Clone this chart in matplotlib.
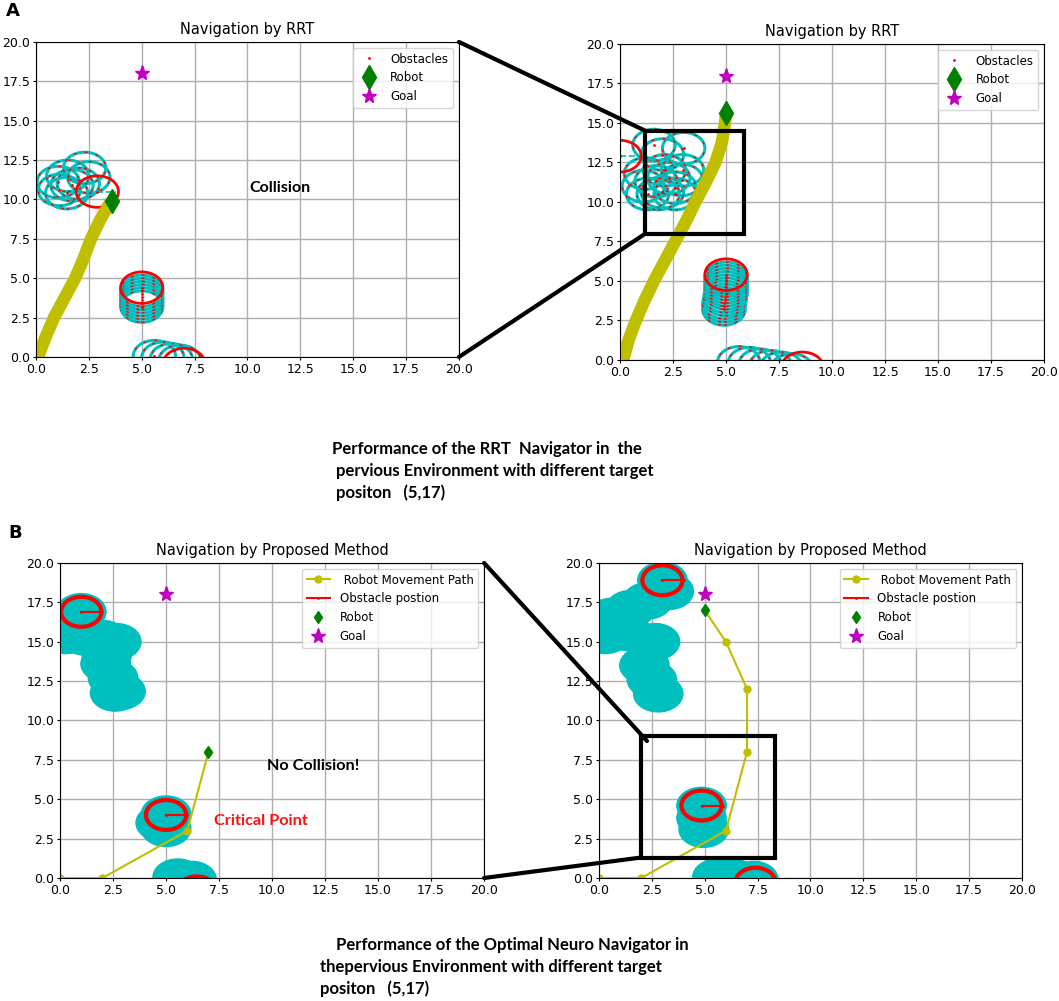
import numpy as np
import matplotlib
matplotlib.use("Agg")
from matplotlib import pyplot as plt
from matplotlib.patches import Circle, Rectangle, ConnectionPatch

# ---- panel A: RRT ----
goal = (5, 18)

rrt1_x = [0.1, 0.45, 0.85, 1.35, 1.85, 2.25, 2.6, 3.05, 3.55]
rrt1_y = [0.0, 1.25, 2.5, 3.75, 5.0, 6.25, 7.5, 8.75, 9.9]
rrt1_robot = (3.6, 9.9)
rrt1_trail = [(1.05, 11.1), (1.1, 10.6), (1.45, 10.4), (1.7, 10.9), (1.5, 11.5),
              (2.0, 11.0), (2.3, 12.0), (2.5, 11.4),
              (5.0, 3.2), (5.0, 3.4), (5.0, 3.6), (5.0, 3.8), (5.0, 4.0), (5.0, 4.2),
              (5.6, 0.05), (6.0, -0.05), (6.4, -0.15), (6.8, -0.25)]
rrt1_last = [(2.9, 10.5), (5.0, 4.4), (7.0, -0.45)]

rrt2_x = [0.15, 0.4, 0.75, 1.15, 1.6, 2.1, 2.6, 3.1, 3.55, 4.05, 4.5, 4.8, 4.95, 5.0]
rrt2_y = [0.0, 1.25, 2.5, 3.75, 5.0, 6.25, 7.5, 8.75, 10.0, 11.25, 12.5, 13.75, 15.0, 15.6]
rrt2_robot = (5.0, 15.6)
rrt2_trail = [(1.6, 13.6), (3.0, 13.4), (1.1, 11.0), (1.3, 10.5), (1.7, 11.3), (2.0, 10.6),
              (2.3, 11.5), (2.6, 10.9), (2.9, 11.4), (1.2, 11.8), (2.1, 12.0), (2.95, 12.0),
              (1.8, 10.5), (2.6, 10.5), (2.0, 13.0),
              (4.9, 3.2), (4.9, 3.4), (4.9, 3.6), (4.95, 3.8), (4.95, 4.0), (5.0, 4.2),
              (5.0, 4.4), (5.0, 4.6), (5.0, 4.8), (5.0, 5.0), (5.0, 5.2),
              (5.6, -0.15), (6.1, -0.2), (6.6, -0.3), (7.1, -0.4), (7.6, -0.5), (8.1, -0.6)]
rrt2_last = [(0.0, 12.9), (5.0, 5.4), (8.6, -0.5)]

# ---- panel B: proposed method ----
path1_x = [0, 2, 6, 7]
path1_y = [0, 0, 3, 8]
nn1_fill = [(1.0, 16.9), (0.6, 16.3), (0.3, 15.4), (1.2, 15.3), (2.0, 15.2), (2.65, 15.0),
            (2.2, 14.2), (2.15, 13.6), (2.5, 12.7), (2.6, 11.75), (2.85, 11.85),
            (5.0, 4.05), (4.75, 3.5), (5.0, 3.15),
            (5.55, 0.05), (6.2, -0.1)]
nn1_ring = [(1.0, 16.9), (5.0, 4.0), (6.45, -0.85)]

path2_x = [0, 2, 6, 7, 7, 6, 5]
path2_y = [0, 0, 3, 8, 12, 15, 17]
nn2_fill = [(3.0, 18.9), (3.3, 18.2), (2.3, 17.6), (1.5, 17.1), (0.6, 16.6), (0.3, 15.4),
            (1.3, 15.6), (2.65, 15.0), (2.15, 13.5), (2.5, 12.6), (2.8, 11.7),
            (4.85, 4.6), (4.85, 3.8), (4.95, 3.1),
            (5.6, 0.05), (6.4, 0.0), (7.3, -0.1)]
nn2_ring = [(3.0, 18.9), (4.85, 4.6), (7.4, -0.3)]

fig = plt.figure(figsize=(10.59, 10.01), dpi=100)
fig.set_facecolor('w')

axA1 = fig.add_axes([0.034, 0.6434, 0.3994, 0.3147])
axA2 = fig.add_axes([0.5855, 0.6404, 0.4004, 0.3157])
axB1 = fig.add_axes([0.0567, 0.1229, 0.4004, 0.3147])
axB2 = fig.add_axes([0.5656, 0.1229, 0.3994, 0.3147])


def setup(ax, title):
    ax.set_xlim(0, 20)
    ax.set_ylim(0, 20)
    ax.set_xticks(np.arange(0, 20.1, 2.5))
    ax.set_yticks(np.arange(0, 20.1, 2.5))
    ax.tick_params(labelsize=9, length=2.5, pad=1.5)
    ax.grid(True, color='#b0b0b0', lw=1)
    ax.set_axisbelow(True)
    ax.set_title(title, fontsize=10.5)


def rrt_panel(ax, px, py, robot, trail, last):
    setup(ax, "Navigation by RRT")
    for c in trail:
        ax.add_patch(Circle(c, 1.0, fill=False, ec='c', lw=2.2))
        ax.add_patch(Circle(c, 1.0, fill=False, ec='r', lw=1.0, ls=(0, (2, 6))))
    for c in last:
        ax.add_patch(Circle(c, 1.0, fill=False, ec='r', lw=2))
        ax.plot([c[0], c[0] + 0.9], [c[1], c[1]], color='c', ls='--', lw=1.2)
    cx = [c[0] for c in trail + last]
    cy = [c[1] for c in trail + last]
    ax.plot(cx, cy, 'r.', ms=2, label='Obstacles')
    ax.plot(px, py, color='y', lw=9, solid_capstyle='butt', solid_joinstyle='round')
    ax.plot(*robot, 'gd', ms=12, label='Robot')
    ax.plot(*goal, 'm*', ms=11, label='Goal')
    ax.legend(loc='upper right', fontsize=8.5)


def nn_panel(ax, px, py, fills, rings):
    setup(ax, "Navigation by Proposed Method")
    for c in fills:
        ax.add_patch(Circle(c, 1.2, color='c', ec='none'))
    for i, c in enumerate(rings):
        ax.add_patch(Circle(c, 0.95, fill=False, ec='r', lw=3))
        ax.plot([c[0], c[0] + 1.0], [c[1], c[1]], 'r.-', ms=2, lw=1.5,
                label='Obstacle postion' if i == 0 else None)
    ax.plot(px, py, 'yo-', ms=5, lw=1.5, label=' Robot Movement Path')
    ax.plot(px[-1], py[-1], 'gd', ms=6, label='Robot')
    ax.plot(*goal, 'm*', ms=11, label='Goal')
    h, l = ax.get_legend_handles_labels()
    order = [1, 0, 2, 3]
    ax.legend([h[i] for i in order], [l[i] for i in order], loc='upper right', fontsize=8.5)


rrt_panel(axA1, rrt1_x, rrt1_y, rrt1_robot, rrt1_trail, rrt1_last)
rrt_panel(axA2, rrt2_x, rrt2_y, rrt2_robot, rrt2_trail, rrt2_last)
nn_panel(axB1, path1_x, path1_y, nn1_fill, nn1_ring)
nn_panel(axB2, path2_x, path2_y, nn2_fill, nn2_ring)

cal = ['Lato', 'DejaVu Sans']
axA1.text(10.1, 10.7, "Collision", fontsize=11.5, weight='bold', family=cal, va='center')
axB1.text(9.75, 7.1, "No Collision!", fontsize=11.7, weight='bold', family=cal, va='center')
axB1.text(7.25, 3.6, "Critical Point", fontsize=11.7, weight='bold', family=cal,
          color='#ff1010', va='center')

# zoom boxes and connector lines
axA2.add_patch(Rectangle((1.2, 8.0), 4.65, 6.5, fill=False, ec='k', lw=3, zorder=5))
axB2.add_patch(Rectangle((2.0, 1.3), 6.3, 7.7, fill=False, ec='k', lw=3, zorder=5))
for xyA, xyB, axa, axb in [((1, 1), (1.2, 14.5), axA1, axA2), ((1, 0), (1.2, 8.0), axA1, axA2),
                           ((1, 1), (2.27, 8.7), axB1, axB2), ((1, 0), (2.0, 1.3), axB1, axB2)]:
    con = ConnectionPatch(xyA=xyA, coordsA=axa.transAxes, xyB=xyB, coordsB=axb.transData,
                          color='k', lw=3, zorder=6)
    fig.add_artist(con)

fig.text(0.006, 0.989, "A", fontsize=13, weight='bold', va='center')
fig.text(0.008, 0.4675, "B", fontsize=13, weight='bold', va='center')

capA = ["Performance of the RRT  Navigator in  the",
        " pervious Environment with different target",
        " positon   (5,17)"]
capB = ["    Performance of the Optimal Neuro Navigator in",
        "thepervious Environment with different target",
        "positon   (5,17)"]
for i, s in enumerate(capA):
    fig.text(332 / 1059, 1 - (449 + 22 * i) / 1001, s, fontsize=12, weight='bold',
             family=cal, va='center')
for i, s in enumerate(capB):
    fig.text(320 / 1059, 1 - (945 + 22 * i) / 1001, s, fontsize=12, weight='bold',
             family=cal, va='center')

plt.savefig(fname="out.png", dpi=100)
